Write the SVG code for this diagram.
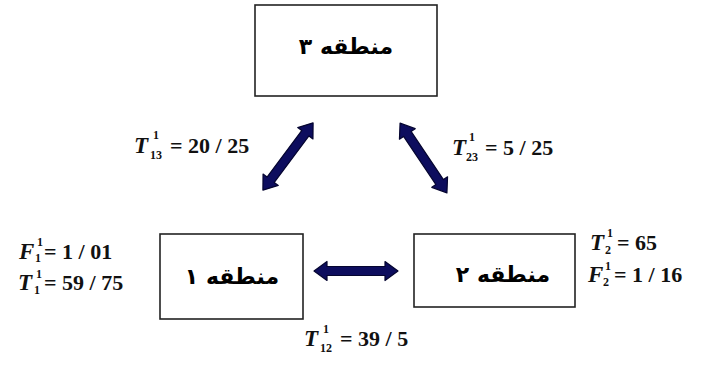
<svg xmlns="http://www.w3.org/2000/svg" width="706" height="365" viewBox="0 0 706 365">
<style>
.box{fill:#fff;stroke:#222;stroke-width:1.6}
.fa{font-family:"DejaVu Sans","Noto Sans",sans-serif;font-weight:bold;font-size:22px;fill:#000;text-anchor:middle}
.m{font-family:"Liberation Serif",serif;font-weight:bold;fill:#111}
.v{font-style:italic;font-size:23px}
.n{font-size:22px}
.s{font-size:12px}
.arr{fill:#0d0d5e;stroke:#050530;stroke-width:1.2;stroke-linejoin:round}
</style>
<defs>
<path id="dbl" d="M-42,0 L-29,-9.5 L-29,-4.5 L29,-4.5 L29,-9.5 L42,0 L29,9.5 L29,4.5 L-29,4.5 L-29,9.5 Z"/>
</defs>
<rect width="706" height="365" fill="#fff"/>
<g id="region3">
<rect class="box" x="255" y="5" width="182" height="91"/>
<text class="fa" x="346" y="54" direction="rtl">منطقه ۳</text>
</g>
<g id="region1">
<rect class="box" x="160" y="234" width="143" height="85"/>
<text class="fa" x="232" y="284" direction="rtl">منطقه ۱</text>
</g>
<g id="region2">
<rect class="box" x="414" y="234" width="161" height="73"/>
<text class="fa" x="503" y="282" direction="rtl">منطقه ۲</text>
</g>
<g id="connectors">
<use href="#dbl" class="arr" transform="translate(288,156.5) rotate(-53.3)"/>
<use href="#dbl" class="arr" transform="translate(423.5,158) rotate(56.1)"/>
<use href="#dbl" class="arr" transform="translate(356,271)"/>
</g>
<g id="labels">
<text class="m v" x="134" y="153">T</text>
<text class="m s" x="153" y="139">1</text>
<text class="m s" x="150" y="159">13</text>
<text class="m n" x="170" y="153">= 20 / 25</text>

<text class="m v" x="452" y="155">T</text>
<text class="m s" x="469" y="141">1</text>
<text class="m s" x="466" y="161">23</text>
<text class="m n" x="485" y="155">= 5 / 25</text>

<text class="m v" x="19" y="259">F</text>
<text class="m s" x="37" y="246">1</text>
<text class="m s" x="35" y="262">1</text>
<text class="m n" x="44" y="259">= 1 / 01</text>

<text class="m v" x="18" y="290">T</text>
<text class="m s" x="36" y="278">1</text>
<text class="m s" x="34" y="294">1</text>
<text class="m n" x="44" y="290">= 59 / 75</text>

<text class="m v" x="590" y="250">T</text>
<text class="m s" x="607" y="237">1</text>
<text class="m s" x="605" y="254">2</text>
<text class="m n" x="617" y="250">= 65</text>

<text class="m v" x="588" y="282">F</text>
<text class="m s" x="605" y="270">1</text>
<text class="m s" x="603" y="286">2</text>
<text class="m n" x="614" y="282">= 1 / 16</text>

<text class="m v" x="304" y="346">T</text>
<text class="m s" x="323" y="333">1</text>
<text class="m s" x="320" y="352">12</text>
<text class="m n" x="340" y="346">= 39 / 5</text>
</g>
</svg>
